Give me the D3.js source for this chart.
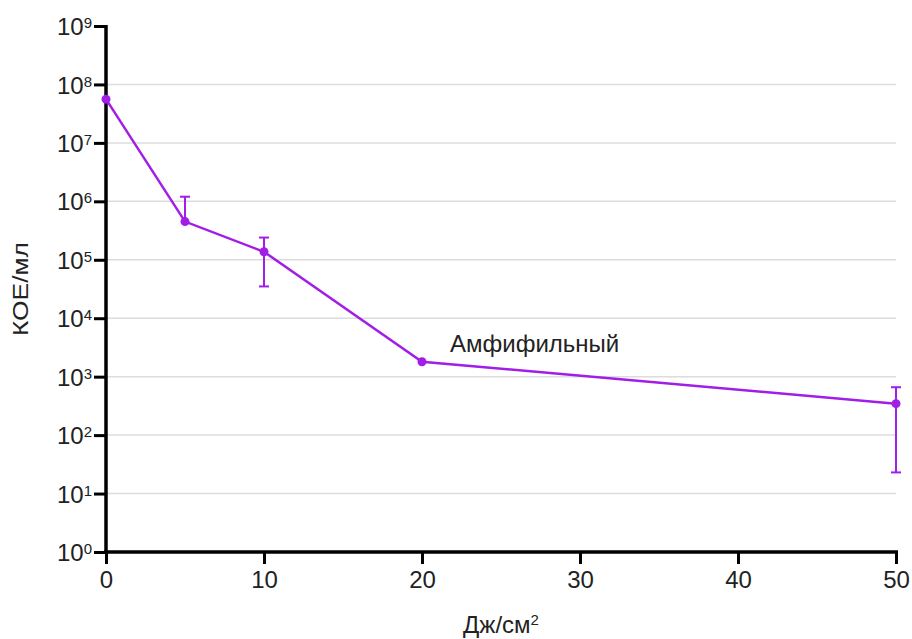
<!DOCTYPE html>
<html>
<head>
<meta charset="utf-8">
<script src="https://cdn.jsdelivr.net/npm/d3@7"></script>
<style>
  body { margin: 0; background: #fff; }
  svg { font-family: "Liberation Sans", Arial, sans-serif; }
</style>
</head>
<body>
<div id="graf"></div>
<script>
// Data
const doses = [0, 5, 10, 20, 50]
const cfu = [5.6e7, 4.5e5, 1.37e5, 1.8e3, 3.45e2]
const errHigh = [5.6e7, 1.2e6, 2.4e5, 1.8e3, 6.6e2]
const errLow = [5.6e7, 4.5e5, 3.5e4, 1.8e3, 23]
const xTicks = [0, 10, 20, 30, 40, 50]
const yExps = [0, 1, 2, 3, 4, 5, 6, 7, 8, 9]
const seriesName = "Амфифильный"

const anchoTotal = 912
const altoTotal = 639
const margins = { left: 106, top: 26, right: 16, bottom: 87 }
const ancho = anchoTotal - margins.left - margins.right
const alto = altoTotal - margins.top - margins.bottom

const svg = d3.select("#graf")
  .append("svg")
  .attr("width", anchoTotal)
  .attr("height", altoTotal)

const g = svg.append("g")
  .attr("transform", `translate(${margins.left}, ${margins.top})`)

// Escaladores
const x = d3.scaleLinear().domain([0, 50]).range([0, ancho])
const y = d3.scaleLog().domain([1, 1e9]).range([alto, 0])

const color = "#a21ee6"
const font = "'Liberation Sans', Arial, sans-serif"

// Grid
g.append("g")
  .selectAll("line")
  .data(yExps.filter((e) => e > 0 && e < 9))
  .join("line")
  .attr("x1", 0)
  .attr("x2", ancho)
  .attr("y1", (e) => y(10 ** e))
  .attr("y2", (e) => y(10 ** e))
  .attr("stroke", "#dcdcdc")
  .attr("stroke-width", 1.5)

// Ejes
const xAxisGroup = g.append("g")
  .attr("transform", `translate(0, ${alto})`)
  .call(d3.axisBottom(x).tickValues(xTicks).tickSize(12).tickSizeOuter(0).tickPadding(7))

const yAxisGroup = g.append("g")
  .call(d3.axisLeft(y).tickValues(yExps.map((e) => 10 ** e)).tickSize(12).tickSizeOuter(0).tickPadding(2).tickFormat(""))

for (const ax of [xAxisGroup, yAxisGroup]) {
  ax.attr("font-size", null).attr("font-family", null)
  ax.select(".domain").attr("stroke", "#000").attr("stroke-width", 3.5)
  ax.selectAll(".tick line").attr("stroke", "#000").attr("stroke-width", 3)
}
xAxisGroup.select(".domain").attr("d", `M-2,0H${ancho + 2}`)
yAxisGroup.select(".domain").attr("d", `M0,-1V${alto + 2}`)

xAxisGroup.selectAll(".tick text")
  .style("font-size", "24px")
  .style("font-family", font)
  .attr("fill", "#222")

yAxisGroup.selectAll(".tick text").each(function (d) {
  const t = d3.select(this)
    .style("font-size", "24px")
    .style("font-family", font)
    .attr("fill", "#222")
    .attr("dy", "0.36em")
  t.append("tspan").text("10")
  t.append("tspan")
    .style("font-size", "15px")
    .attr("dy", -7)
    .text(Math.round(Math.log10(d)))
})

// Títulos
svg.append("text")
  .attr("x", 501)
  .attr("y", 633)
  .attr("text-anchor", "middle")
  .style("font-size", "24px")
  .attr("fill", "#222")
  .call((t) => {
    t.append("tspan").text("Дж/см")
    t.append("tspan").style("font-size", "15px").attr("dy", -8).text("2")
  })

svg.append("text")
  .attr("transform", `translate(28, 289) rotate(-90)`)
  .attr("text-anchor", "middle")
  .style("font-size", "22px")
  .attr("textLength", 94)
  .attr("lengthAdjust", "spacingAndGlyphs")
  .attr("fill", "#222")
  .text("КОЕ/мл")

// Series
const data = doses.map((d, i) => ({ dose: d, v: cfu[i], hi: errHigh[i], lo: errLow[i] }))

const errs = g.append("g")
  .attr("stroke", color)
  .attr("stroke-width", 2)
errs.selectAll("line.v")
  .data(data.filter((d) => d.hi > d.v || d.lo < d.v))
  .join("line")
  .attr("class", "v")
  .attr("x1", (d) => x(d.dose))
  .attr("x2", (d) => x(d.dose))
  .attr("y1", (d) => y(d.hi))
  .attr("y2", (d) => y(d.lo))
errs.selectAll("line.cap")
  .data(data.flatMap((d) => [d.hi > d.v ? { dose: d.dose, e: d.hi } : null, d.lo < d.v ? { dose: d.dose, e: d.lo } : null]).filter(Boolean))
  .join("line")
  .attr("class", "cap")
  .attr("x1", (d) => x(d.dose) - 5)
  .attr("x2", (d) => x(d.dose) + 5)
  .attr("y1", (d) => y(d.e))
  .attr("y2", (d) => y(d.e))

const line = d3.line().x((d) => x(d.dose)).y((d) => y(d.v))
g.append("path")
  .datum(data)
  .attr("d", line)
  .attr("fill", "none")
  .attr("stroke", color)
  .attr("stroke-width", 2.5)

g.selectAll("circle")
  .data(data)
  .join("circle")
  .attr("cx", (d) => x(d.dose))
  .attr("cy", (d) => y(d.v))
  .attr("r", 4.5)
  .attr("fill", color)

// Etiqueta de la serie, junto al punto de 20 Дж/см²
g.append("text")
  .attr("x", x(20) + 28)
  .attr("y", y(1.8e3) - 10)
  .style("font-size", "24px")
  .attr("fill", "#222")
  .text(seriesName)
</script>
</body>
</html>
